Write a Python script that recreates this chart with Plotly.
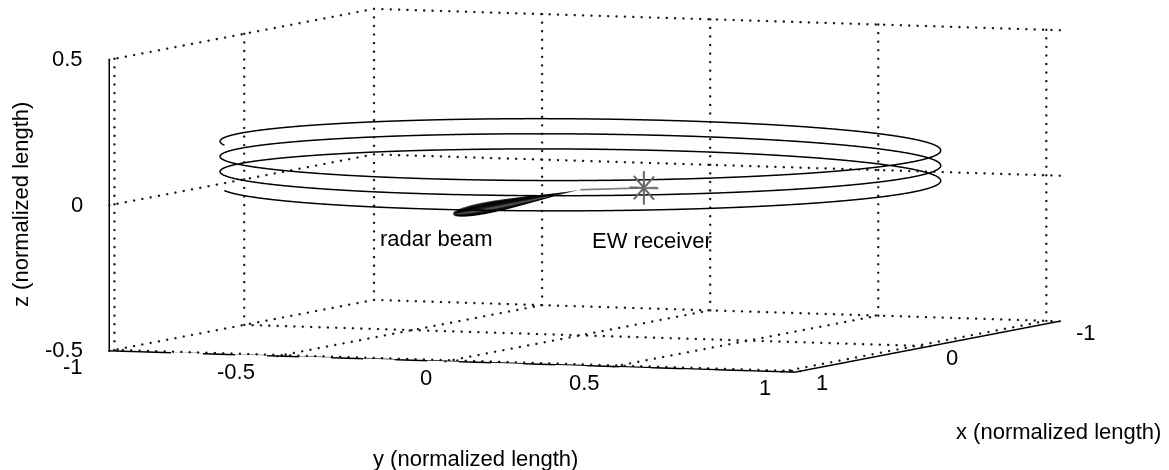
import numpy as np
import plotly.graph_objects as go

# ---------------- data ----------------
X_RANGE = [-1.0, 1.04]
Y_RANGE = [-1.0, 1.04]
Z_RANGE = [-0.5, 0.5]
X_TICKS = [-1, 0, 1]
Y_TICKS = [-1, -0.5, 0, 0.5, 1]
Z_TICKS = [-0.5, 0, 0.5]
X_TICK_LABELS = ["-1", "0", "1"]
Y_TICK_LABELS = ["-1", "-0.5", "0", "0.5", "1"]
Z_TICK_LABELS = ["-0.5", "0", "0.5"]

# EW receiver flight path (helix): radius, start/end height, turns, start angle
HELIX_RADIUS = 1.0
HELIX_Z = [0.165, 0.009]          # start, end height
HELIX_TURNS = 3.0
HELIX_START_DEG = 300.0           # clockwise seen from above

# radar at origin, beam pointing along +x
RADAR_POS = [0.0, 0.0, 0.0]
BEAM_DIR = [1.0, 0.0, 0.0]
BEAM_LENGTH = 0.98
BEAM_MAX_RADIUS = 0.02

# EW receiver position and line of sight end
RECEIVER_POS = [0.87, 0.525, 0.10]
LOS_END_FACTOR = 1.28

FONT = "Liberation Sans, Arial, sans-serif"
FS = 22
ZOOM = 3.88
# grid dot spacing, in data units along each axis (about 8 px on screen)
DOT_STEP = {0: 0.064, 1: 0.025, 2: 0.029}

fig = go.Figure()

def seg_trace(segs, color="black", width=1.5, name=""):
    xs, ys, zs = [], [], []
    for (a, b) in segs:
        xs += [a[0], b[0], None]
        ys += [a[1], b[1], None]
        zs += [a[2], b[2], None]
    return go.Scatter3d(x=xs, y=ys, z=zs, mode="lines",
                        line=dict(color=color, width=width),
                        hoverinfo="skip", showlegend=False, name=name)

x0, x1 = X_RANGE
y0, y1 = Y_RANGE
z0, z1 = Z_RANGE

# ---------------- grid (dotted, on the back planes) ----------------
grid = []
for yv in Y_TICKS:
    grid.append(((x0, yv, z0), (x0, yv, z1)))
for zv in Z_TICKS:
    grid.append(((x0, y0, zv), (x0, y1, zv)))
for xv in X_TICKS:
    grid.append(((xv, y0, z0), (xv, y0, z1)))
for zv in Z_TICKS:
    grid.append(((x0, y0, zv), (x1, y0, zv)))
for xv in X_TICKS:
    grid.append(((xv, y0, z0), (xv, y1, z0)))
for yv in Y_TICKS:
    grid.append(((x0, yv, z0), (x1, yv, z0)))

gx, gy, gz = [], [], []
for a, b in grid:
    a = np.array(a, float); b = np.array(b, float)
    ax_i = int(np.argmax(np.abs(b - a)))
    n = max(2, int(round(abs(b[ax_i] - a[ax_i]) / DOT_STEP[ax_i])) + 1)
    s = np.linspace(0, 1, n)
    pts = a[None, :] + s[:, None] * (b - a)[None, :]
    gx += list(pts[:, 0]); gy += list(pts[:, 1]); gz += list(pts[:, 2])
fig.add_trace(go.Scatter3d(x=gx, y=gy, z=gz, mode="markers",
                           marker=dict(size=1.4, color="#1a1a1a", symbol="circle", line=dict(width=0)),
                           hoverinfo="skip", showlegend=False))

# ---------------- helix path ----------------
phi = np.deg2rad(np.linspace(HELIX_START_DEG, HELIX_START_DEG - 360 * HELIX_TURNS, 1200))
hz = np.linspace(HELIX_Z[0], HELIX_Z[1], phi.size)
fig.add_trace(go.Scatter3d(x=HELIX_RADIUS * np.cos(phi), y=HELIX_RADIUS * np.sin(phi), z=hz,
                           mode="lines", line=dict(color="black", width=3),
                           hoverinfo="skip", showlegend=False))

# ---------------- radar beam (lobe surface) ----------------
t = np.linspace(0, 1, 40)
th = np.linspace(0, 2 * np.pi, 25)
T, TH = np.meshgrid(t, th)
prof = (T ** 1.5) * (1 - T) ** 0.5
prof = prof / prof.max() * BEAM_MAX_RADIUS
d = np.array(BEAM_DIR) / np.linalg.norm(BEAM_DIR)
u = np.cross(d, [0, 0, 1.0]); u = u / np.linalg.norm(u)
v = np.cross(d, u)
BX = RADAR_POS[0] + d[0] * BEAM_LENGTH * T + prof * (np.cos(TH) * u[0] + np.sin(TH) * v[0])
BY = RADAR_POS[1] + d[1] * BEAM_LENGTH * T + prof * (np.cos(TH) * u[1] + np.sin(TH) * v[1])
BZ = RADAR_POS[2] + d[2] * BEAM_LENGTH * T + prof * (np.cos(TH) * u[2] + np.sin(TH) * v[2])
fig.add_trace(go.Surface(x=BX, y=BY, z=BZ, surfacecolor=np.cos(4 * TH),
                         colorscale=[[0, "#000000"], [0.7, "#1a1a1a"], [1, "#666666"]],
                         showscale=False, hoverinfo="skip",
                         lighting=dict(ambient=0.9, diffuse=0.2, specular=0.0)))

# ---------------- line of sight radar -> receiver ----------------
R = np.array(RECEIVER_POS)
los_end = R * LOS_END_FACTOR
fig.add_trace(seg_trace([(tuple(RADAR_POS), tuple(los_end))], color="#808080", width=3.5))

# receiver '*' marker drawn as spokes
SPOKE = 0.05
spokes = [((R[0], R[1], R[2] - SPOKE * 1.15), (R[0], R[1], R[2] + SPOKE * 1.15)),
          ((R[0], R[1] - SPOKE * 0.85, R[2]), (R[0], R[1] + SPOKE * 0.85, R[2])),
          ((R[0], R[1] - SPOKE * 0.6, R[2] - SPOKE * 0.8), (R[0], R[1] + SPOKE * 0.6, R[2] + SPOKE * 0.8)),
          ((R[0], R[1] - SPOKE * 0.6, R[2] + SPOKE * 0.8), (R[0], R[1] + SPOKE * 0.6, R[2] - SPOKE * 0.8))]
fig.add_trace(seg_trace(spokes, color="#666666", width=4))

# ---------------- axes lines and ticks ----------------
axes = [((x1, y0, z0), (x1, y0, z1)),
        ((x1, y0, z0), (x1, y1, z0)),
        ((x0, y1, z0), (x1, y1, z0))]
ticks = []
for zv in Z_TICKS:
    ticks.append(((x1, y0, zv), (x1, y0 - 0.045, zv)))
for yv in Y_TICKS:
    ticks.append(((x1, yv, z0), (x1 + 0.09, yv, z0)))
for xv in X_TICKS:
    ticks.append(((xv, y1, z0), (xv, y1 + 0.03, z0)))
fig.add_trace(seg_trace(axes, color="black", width=3))
fig.add_trace(seg_trace(ticks, color="black", width=4))

tfont = dict(family=FONT, size=FS, color="black")
ann = []
for zv, lab in zip(Z_TICKS, Z_TICK_LABELS):
    ann.append(dict(x=x1, y=y0, z=zv, text=lab, showarrow=False, xanchor="right",
                    yanchor="middle", xshift=-24, yshift=1, font=tfont))
Y_LABEL_DX = [-10, -15, 7, -3, 9]
for yv, lab, dx in zip(Y_TICKS, Y_TICK_LABELS, Y_LABEL_DX):
    ann.append(dict(x=x1, y=yv, z=z0, text=lab, showarrow=False, xanchor="center",
                    yanchor="middle", xshift=-26 + dx, yshift=-16, font=tfont))
for xv, lab in zip(X_TICKS, X_TICK_LABELS):
    ann.append(dict(x=xv, y=y1, z=z0, text=lab, showarrow=False, xanchor="left",
                    yanchor="middle", xshift=14, yshift=-12, font=tfont))
beam_tip = np.array(RADAR_POS) + d * BEAM_LENGTH
ann.append(dict(x=beam_tip[0], y=beam_tip[1], z=beam_tip[2], text="radar beam", showarrow=False,
                xanchor="center", yanchor="middle", xshift=-17, yshift=-24, font=tfont))
ann.append(dict(x=R[0], y=R[1], z=R[2], text="EW receiver", showarrow=False,
                xanchor="center", yanchor="middle", xshift=8, yshift=-53, font=tfont))

ax_common = dict(visible=False)
EYE_DIR = np.array([0.925, 0.372, 0.0774])
EYE = EYE_DIR / np.linalg.norm(EYE_DIR) * 10
fig.update_layout(
    width=1169, height=470,
    margin=dict(l=0, r=0, t=0, b=0),
    paper_bgcolor="white", plot_bgcolor="white",
    showlegend=False,
    scene=dict(
        domain=dict(x=[0, 1], y=[0.19, 1]),
        xaxis=dict(range=X_RANGE, **ax_common),
        yaxis=dict(range=Y_RANGE, **ax_common),
        zaxis=dict(range=Z_RANGE, **ax_common),
        aspectmode="manual",
        aspectratio=dict(x=0.96 * ZOOM, y=1.0 * ZOOM, z=0.395 * ZOOM),
        camera=dict(eye=dict(x=EYE[0], y=EYE[1], z=EYE[2]),
                    up=dict(x=0, y=0, z=1), center=dict(x=0, y=0, z=0),
                    projection=dict(type="orthographic")),
        annotations=ann,
    ),
    annotations=[
        dict(text="z (normalized length)", x=20 / 1169, y=1 - 205 / 470, xref="paper", yref="paper",
             showarrow=False, textangle=-90, font=tfont, xanchor="center", yanchor="middle"),
        dict(text="y (normalized length)", x=475 / 1169, y=1 - 458 / 470, xref="paper", yref="paper",
             showarrow=False, font=tfont, xanchor="center", yanchor="middle"),
        dict(text="x (normalized length)", x=1058 / 1169, y=1 - 431 / 470, xref="paper", yref="paper",
             showarrow=False, font=tfont, xanchor="center", yanchor="middle"),
    ],
)

fig.write_html("out.html")
